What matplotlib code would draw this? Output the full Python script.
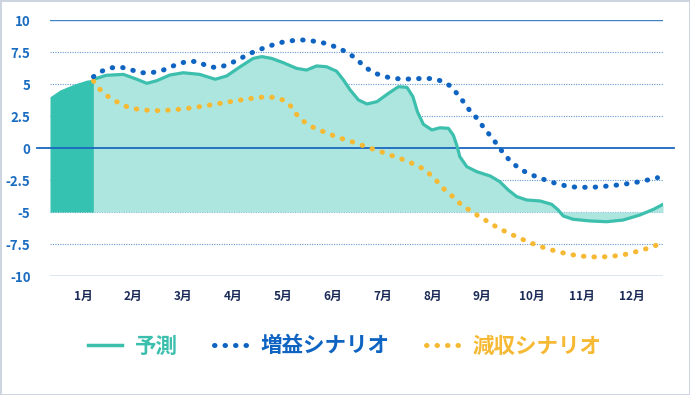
import matplotlib
matplotlib.use("Agg")
import matplotlib.pyplot as plt
from matplotlib.lines import Line2D

plt.rcParams["font.family"] = ["Noto Sans CJK JP", "DejaVu Sans"]

# x positions are in month units (1 = 1月 ... 12 = 12月)
months = ["1月", "2月", "3月", "4月", "5月", "6月", "7月", "8月", "9月", "10月", "11月", "12月"]
month_pos = list(range(1, 13))
y_ticks = [-10, -7.5, -5, -2.5, 0, 2.5, 5, 7.5, 10]
y_tick_labels = ["-10", "-7.5", "-5", "-2.5", "0", "2.5", "5", "7.5", "10"]

# actual (dark area before the forecast)
actual_x = [0.34, 0.54, 0.81, 1.07, 1.21]
actual_y = [4.0, 4.53, 4.97, 5.3, 5.37]

# 予測
fc_x = [1.21, 1.47, 1.81, 2.08, 2.28, 2.48, 2.74, 3.01, 3.34, 3.65, 3.88, 4.15,
        4.41, 4.58, 4.78, 5.01, 5.28, 5.48, 5.68, 5.88, 6.08, 6.22, 6.35, 6.52,
        6.69, 6.89, 7.12, 7.32, 7.49, 7.61, 7.70, 7.82, 7.99, 8.15, 8.32, 8.42,
        8.49, 8.55, 8.69, 8.89, 9.16, 9.35, 9.52, 9.69, 9.89, 10.16, 10.39, 10.52,
        10.62, 10.82, 11.16, 11.49, 11.82, 12.16, 12.43, 12.62]
fc_y = [5.37, 5.68, 5.75, 5.37, 5.05, 5.26, 5.70, 5.88, 5.75, 5.37, 5.63, 6.35,
        7.0, 7.14, 7.0, 6.67, 6.22, 6.09, 6.41, 6.35, 6.0, 5.31, 4.55, 3.75,
        3.44, 3.62, 4.27, 4.79, 4.74, 4.01, 2.84, 1.85, 1.41, 1.58, 1.54, 1.0,
        0.2, -0.68, -1.46, -1.85, -2.19, -2.63, -3.28, -3.8, -4.06, -4.14, -4.4, -4.84,
        -5.31, -5.57, -5.7, -5.76, -5.63, -5.23, -4.79, -4.4]

# 増益シナリオ
up_x = [1.21, 1.39, 1.57, 1.78, 1.98, 2.16, 2.36, 2.56, 2.74, 2.93, 3.13, 3.31,
        3.51, 3.70, 3.88, 4.07, 4.25, 4.43, 4.61, 4.80, 4.99, 5.20, 5.40, 5.60,
        5.80, 5.98, 6.17, 6.35, 6.50, 6.64, 6.81, 7.00, 7.20, 7.40, 7.60, 7.80,
        8.00, 8.19, 8.35, 8.49, 8.61, 8.74, 8.87, 8.99, 9.11, 9.24, 9.36, 9.48,
        9.61, 9.77, 9.94, 10.14, 10.32, 10.51, 10.71, 10.90, 11.10, 11.31, 11.51,
        11.71, 11.91, 12.11, 12.31, 12.51]
up_y = [5.57, 6.02, 6.27, 6.3, 6.09, 5.88, 5.88, 6.01, 6.3, 6.61, 6.78, 6.74,
        6.35, 6.28, 6.48, 6.82, 7.19, 7.53, 7.79, 8.05, 8.26, 8.39, 8.44, 8.36,
        8.23, 8.02, 7.71, 7.33, 6.88, 6.35, 5.91, 5.63, 5.44, 5.39, 5.39, 5.44,
        5.42, 5.23, 4.87, 4.27, 3.67, 2.97, 2.42, 1.8, 1.2, 0.57, -0.08, -0.68,
        -1.2, -1.67, -2.03, -2.32, -2.58, -2.81, -2.99, -3.07, -3.07, -3.05, -2.97,
        -2.89, -2.79, -2.66, -2.5, -2.32]

# 減収シナリオ
down_x = [1.21, 1.34, 1.49, 1.66, 1.84, 2.03, 2.23, 2.43, 2.63, 2.83, 3.03, 3.22,
          3.42, 3.63, 3.83, 4.03, 4.23, 4.43, 4.61, 4.81, 5.01, 5.16, 5.27, 5.41,
          5.58, 5.77, 5.95, 6.14, 6.34, 6.54, 6.72, 6.91, 7.10, 7.29, 7.47, 7.67,
          7.84, 7.98, 8.12, 8.25, 8.41, 8.55, 8.72, 8.89, 9.06, 9.22, 9.40, 9.58,
          9.76, 9.94, 10.14, 10.32, 10.52, 10.71, 10.91, 11.11, 11.31, 11.51, 11.71,
          11.91, 12.11, 12.31, 12.50]
down_y = [5.23, 4.58, 4.06, 3.65, 3.28, 3.07, 2.97, 2.92, 2.94, 2.99, 3.07, 3.16,
          3.28, 3.41, 3.54, 3.67, 3.8, 3.9, 3.98, 3.96, 3.75, 3.28, 2.66, 2.11,
          1.67, 1.35, 1.07, 0.79, 0.55, 0.29, 0.03, -0.21, -0.47, -0.73, -0.99, -1.33,
          -1.67, -2.16, -2.71, -3.28, -3.8, -4.32, -4.79, -5.23, -5.63, -6.02, -6.41, -6.74,
          -7.06, -7.37, -7.66, -7.89, -8.1, -8.28, -8.41, -8.49, -8.52, -8.49, -8.41,
          -8.28, -8.07, -7.84, -7.58]

base = -5

TEAL = "#3dbfae"
TEAL_DARK = "#36c2b0"
TEAL_LIGHT = "#ade6de"
BLUE = "#0f64c2"
ORANGE = "#f6b933"
GRID = "#3f80c6"

W, H = 690, 395
fig = plt.figure(figsize=(W / 100, H / 100), dpi=100, facecolor="white",
                 edgecolor="#cdd5e0", linewidth=2)
ax = fig.add_axes([50 / W, (H - 276) / H, (663 - 50) / W, (276 - 20) / H])
ax.set_xlim(0.34, 12.62)
ax.set_ylim(-10, 10)
for s in ax.spines.values():
    s.set_visible(False)

# gridlines
for v in y_ticks:
    if v in (10, -10):
        ax.axhline(v, color=GRID, lw=1.0, zorder=1)
    elif v == 0:
        continue
    else:
        ax.axhline(v, color=GRID, lw=0.8, ls=(0, (1, 1.2)), alpha=0.8, zorder=1)

# areas
ax.fill_between(actual_x, actual_y, base, color=TEAL_DARK, lw=0, zorder=2)
ax.fill_between(fc_x, fc_y, base, color=TEAL_LIGHT, lw=0, zorder=2)

# zero line, drawn over the fill and a bit past the plot edges
ax.axhline(0, xmin=-0.022, xmax=1.018, color="#1a68c0", lw=1.3, zorder=3, clip_on=False)

ax.plot(fc_x, fc_y, color=TEAL, lw=2.3, zorder=4, solid_capstyle="round")
dots = (0, (0.1, 2.0))
ax.plot(down_x, down_y, color=ORANGE, lw=3.6, ls=dots, dash_capstyle="round", zorder=5)
ax.plot(up_x, up_y, color=BLUE, lw=3.6, ls=dots, dash_capstyle="round", zorder=6)

ax.set_yticks(y_ticks)
ax.set_yticklabels(y_tick_labels, color="#1a6cc0", fontsize=9.5, fontweight="bold")
ax.set_xticks(month_pos)
ax.set_xticklabels(months, color="#1b2b57", fontsize=8.5, fontweight="bold")
ax.tick_params(axis="y", length=0, pad=14)
ax.tick_params(axis="x", length=0, pad=10)

handles = [
    Line2D([], [], color=TEAL, lw=2.5),
    Line2D([], [], color=BLUE, lw=3.6, ls=dots, dash_capstyle="round"),
    Line2D([], [], color=ORANGE, lw=3.6, ls=dots, dash_capstyle="round"),
]
leg = fig.legend(handles, ["予測", "増益シナリオ", "減収シナリオ"], loc="center",
                 bbox_to_anchor=(0.5, 1 - 346 / H), ncol=3, frameon=False,
                 prop={"size": 15.5, "weight": "bold"}, handlelength=1.55,
                 handletextpad=0.6, columnspacing=1.7)
for t, c in zip(leg.get_texts(), [TEAL, BLUE, ORANGE]):
    t.set_color(c)

fig.savefig("out.png", dpi=100, facecolor=fig.get_facecolor(), edgecolor=fig.get_edgecolor())
